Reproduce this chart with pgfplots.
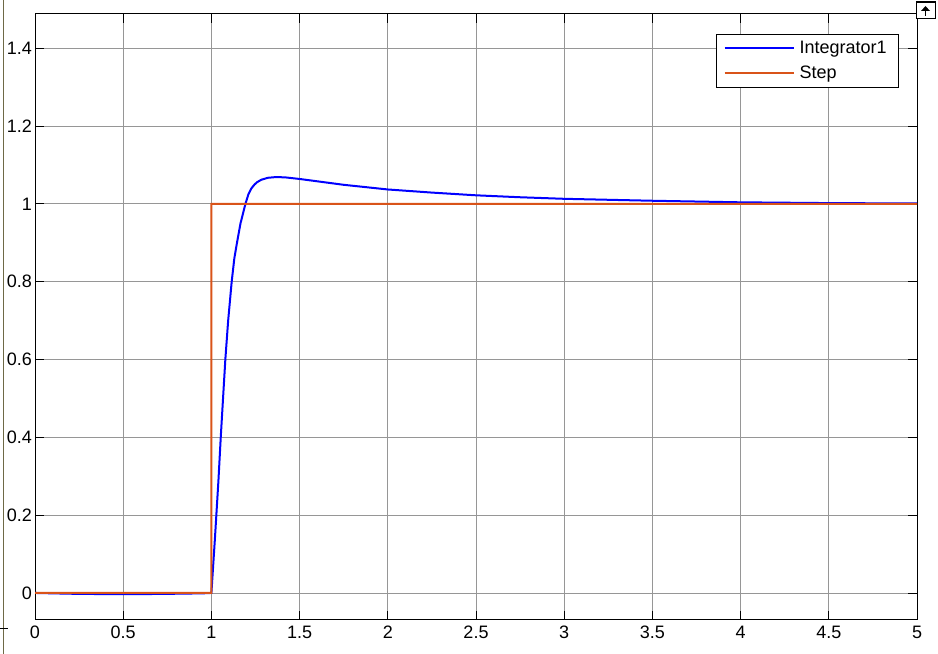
\documentclass[border=0pt]{standalone}
\usepackage{fontspec}
\setmainfont{Liberation Sans}
\usepackage{pgfplots}
\pgfplotsset{compat=1.18}
\definecolor{mlorange}{RGB}{217,83,25}
\definecolor{gridgray}{RGB}{150,150,150}
\definecolor{frameolive}{RGB}{110,105,70}
\begin{document}
\begin{tikzpicture}
\path[use as bounding box] (0bp,0bp) rectangle (938bp,654bp);
\draw[frameolive, line width=1bp] (3bp,0bp) -- (3bp,654bp);
\draw[black, line width=0.8bp] (0bp,26bp) -- (8bp,26bp);
\begin{axis}[
  at={(35bp,34bp)}, anchor=south west,
  scale only axis, width=882bp, height=606bp,
  xmin=0, xmax=5, ymin=-0.0695, ymax=1.488,
  xtick={0,0.5,...,5}, ytick={0,0.2,...,1.4},
  xticklabels={0,0.5,1,1.5,2,2.5,3,3.5,4,4.5,5},
  yticklabels={0,0.2,0.4,0.6,0.8,1,1.2,1.4},
  tick pos=both, tick align=inside, major tick length=9bp,
  tick style={black, line width=0.8bp},
  grid=major, major grid style={gridgray, line width=0.8bp},
  axis line style={black, line width=1bp},
  font=\fontsize{18bp}{21bp}\selectfont,
  ticklabel style={font=\fontsize{18bp}{21bp}\selectfont},
  xticklabel style={inner sep=1bp, yshift=-5bp},
  yticklabel style={inner sep=1bp, xshift=-2bp},
  /pgf/number format/assume math mode=true,
  legend style={at={(0.9796,0.967)}, anchor=north east, draw=black, line width=0.8bp,
    fill=white, font=\fontsize{18bp}{21bp}\selectfont, row sep=9bp,
    inner xsep=7bp, inner ysep=6bp, nodes={inner xsep=5bp, inner ysep=1bp}},
  legend cell align=left,
  legend image code/.code={\draw[#1] (0bp,0bp) -- (69bp,0bp);},
]
\addplot[blue, line width=2bp] coordinates {
(0,0) (0.1,-0.001) (0.2,-0.002) (0.4,-0.003) (0.6,-0.003) (0.8,-0.002) (0.95,-0.001) (1.0,0)
(1.01,0.07) (1.02,0.14) (1.028,0.2) (1.04,0.29) (1.053,0.4) (1.066,0.5) (1.079,0.6)
(1.095,0.7) (1.115,0.8) (1.13,0.86) (1.145,0.9) (1.165,0.95) (1.193,1.0) (1.21,1.025) (1.227,1.04)
(1.245,1.05) (1.26,1.056) (1.283,1.062) (1.32,1.067) (1.368,1.069) (1.42,1.068) (1.5,1.064)
(1.6,1.058) (1.75,1.049) (2.0,1.037) (2.25,1.029) (2.5,1.022) (2.75,1.017) (3.0,1.013)
(3.5,1.008) (4.0,1.004) (4.5,1.002) (5.0,1.001)
};
\addlegendentry{Integrator1}
\addplot[mlorange, line width=2bp] coordinates {(0,0) (0.9999,0) (1,1) (5,1)};
\addlegendentry{Step}
\end{axis}
\draw[black, line width=0.8bp, fill=white] (916bp,636bp) rectangle (935bp,653bp);
\draw[black, line width=2bp] (916bp,652bp) -- (935bp,652bp);
\fill[black] (925.5bp,648bp) -- (921bp,643bp) -- (930bp,643bp) -- cycle;
\draw[black, line width=1.2bp] (925.5bp,643bp) -- (925.5bp,638bp);
\end{tikzpicture}
\end{document}
